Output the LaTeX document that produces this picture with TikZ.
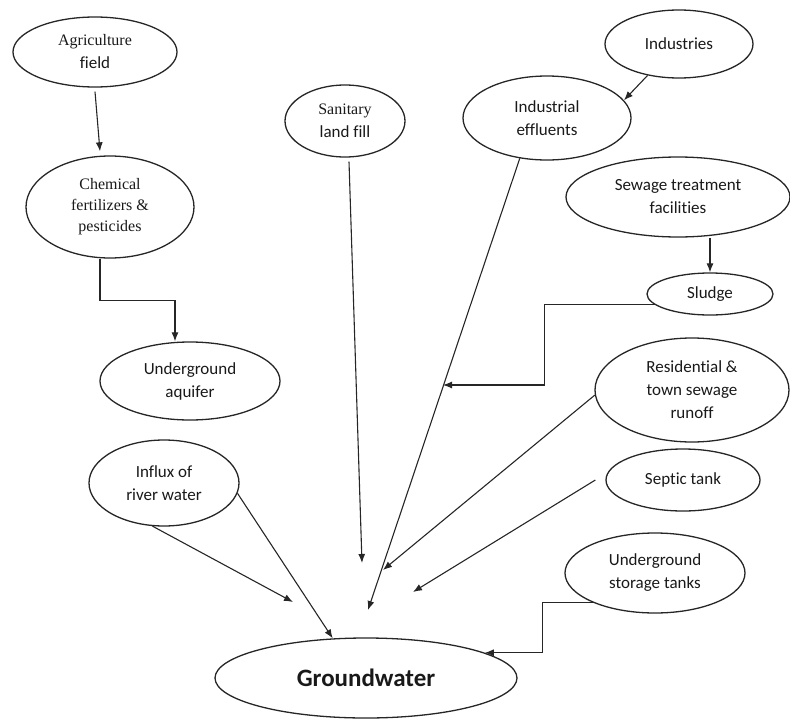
\documentclass[tikz,border=0pt]{standalone}
\usepackage{fontspec}
\setmainfont{Carlito}[Ligatures=NoCommon]
\newfontfamily\serifface{Liberation Serif}
\usetikzlibrary{shapes.geometric,arrows.meta}

\begin{document}
\begin{tikzpicture}[x=1pt,y=-1pt,
    src/.style={ellipse,draw=black!85,line width=1.3pt,inner sep=0pt,align=center,
      text=black!90,font=\fontsize{17}{23}\selectfont},
    arr/.style={-{Latex[length=9pt,width=7pt]},draw=black!85,line width=1.1pt}]
    \useasboundingbox (0,0) rectangle (790,720);

    % sources
    \node[src,minimum width=164pt,minimum height=70pt] (agri) at (95,52) {{\serifface\fontsize{16}{21}\selectfont Agriculture}\\field};
    \node[src,minimum width=168pt,minimum height=102pt,font=\serifface\fontsize{16}{21}\selectfont] (chem) at (110,207) {Chemical\\fertilizers \&\\pesticides};
    \node[src,minimum width=120pt,minimum height=72pt] (sanitary) at (345,121) {{\serifface\fontsize{16}{21}\selectfont Sanitary}\\land fill};
    \node[src,minimum width=148pt,minimum height=68pt] (industries) at (679,44) {Industries};
    \node[src,minimum width=168pt,minimum height=84pt] (effluents) at (547,118) {Industrial\\effluents};
    \node[src,minimum width=224pt,minimum height=80pt] (sewage) at (678,197) {Sewage treatment\\facilities};
    \node[src,minimum width=126pt,minimum height=42pt] (sludge) at (710,294) {Sludge};
    \node[src,minimum width=180pt,minimum height=78pt] (aquifer) at (190,381) {Underground\\aquifer};
    \node[src,minimum width=194pt,minimum height=104pt] (residential) at (692,390) {Residential \&\\town sewage\\runoff};
    \node[src,minimum width=150pt,minimum height=86pt] (influx) at (164,483) {Influx of\\river water};
    \node[src,minimum width=154pt,minimum height=62pt] (septic) at (683,480) {Septic tank};
    \node[src,minimum width=180pt,minimum height=80pt] (storage) at (655,573) {Underground\\storage tanks};
    \node[src,minimum width=302pt,minimum height=80pt,font=\bfseries\fontsize{25}{30}\selectfont] (groundwater) at (366,678) {Groundwater};

    % free arrow ends
    \coordinate (sanEnd) at (362,563);
    \coordinate (effEnd) at (368,610);
    \coordinate (resEnd) at (383,570);
    \coordinate (sepEnd) at (413,592);
    \coordinate (infEnd) at (293,602);
    \coordinate (sludgeEnd) at (443,385);

    \draw[arr] ([yshift=-4pt]agri.south) -- ([xshift=-10pt,yshift=4pt]chem.north);
    \draw[arr] ([xshift=-10pt]chem.south) -- ++(0,42) -| ([xshift=-15pt]aquifer.north);
    \draw[arr] (industries.225) -- (effluents.13);
    \draw[arr] (sewage.south -| sludge.north) -- (sludge.north);
    \draw[arr] (sludge.191) -- ++(-110,0) |- (sludgeEnd);
    \draw[arr] (effluents.236) -- (effEnd);
    \draw[arr] ([xshift=4pt,yshift=-4pt]sanitary.south) -- (sanEnd);
    \draw[arr] (residential.183) -- (resEnd);
    \draw[arr] ([xshift=-10pt]septic.west) -- (sepEnd);
    \draw[arr] (storage.206) -- ++(-51,0) |- (groundwater.12);
    \draw[arr] (influx.-8) -- (groundwater.130);
    \draw[arr] (influx.255) -- (infEnd);
\end{tikzpicture}
\end{document}
